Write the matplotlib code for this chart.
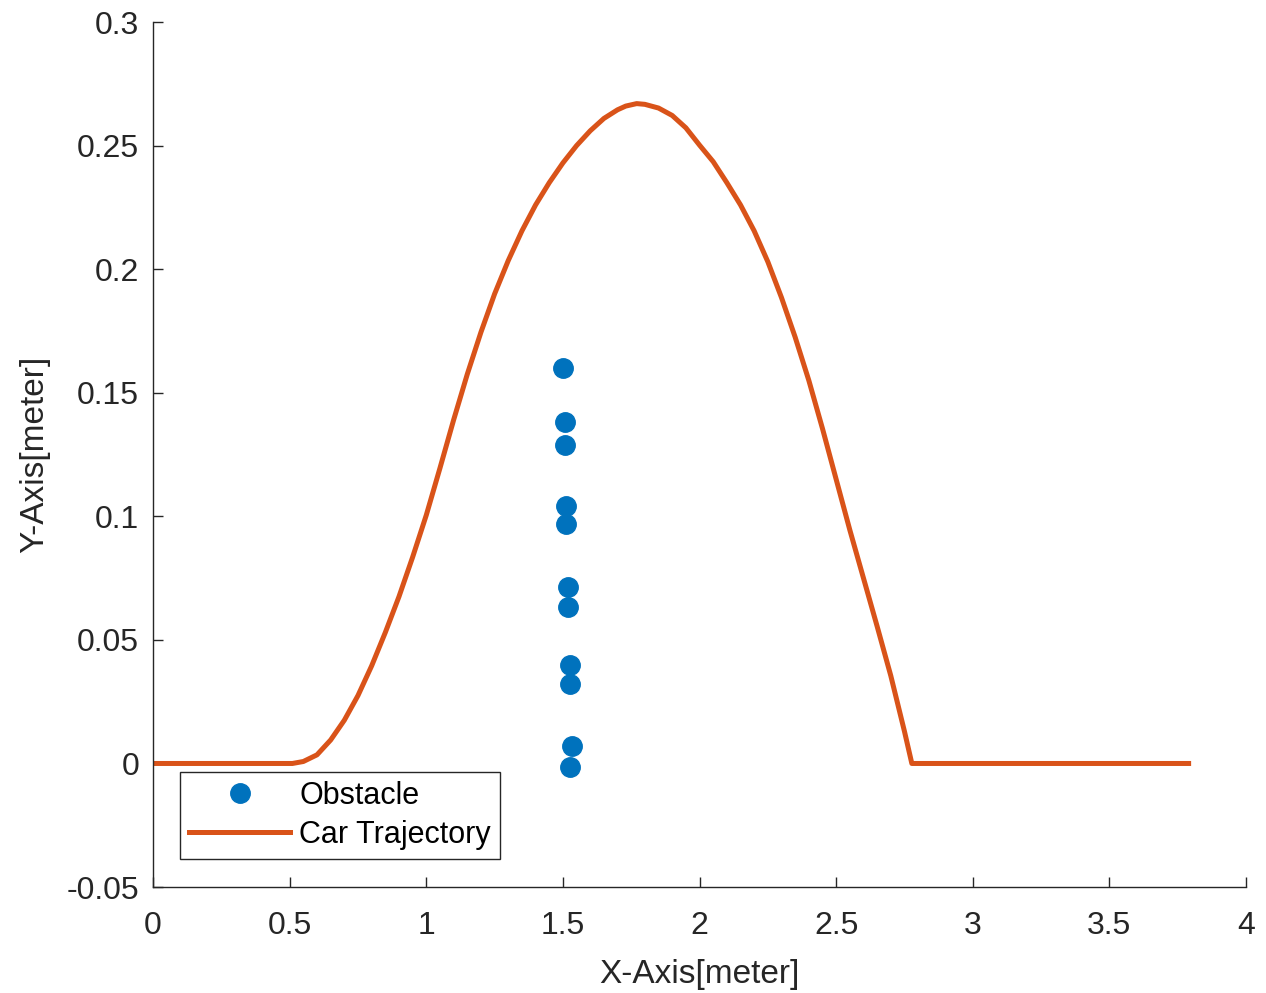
import matplotlib
matplotlib.use("Agg")
import matplotlib.pyplot as plt

plt.rcParams['font.family'] = ['Liberation Sans', 'DejaVu Sans']

# obstacle points
obs_x = [1.500, 1.508, 1.508, 1.511, 1.511, 1.519, 1.519, 1.526, 1.526, 1.533, 1.526]
obs_y = [0.160, 0.138, 0.129, 0.104, 0.0967, 0.0716, 0.0635, 0.0397, 0.032, 0.0069, -0.0016]

# car trajectory
traj_x = [0.0, 0.51, 0.55, 0.60, 0.65, 0.70, 0.75, 0.80, 0.85, 0.90, 0.95, 1.00, 1.05,
          1.10, 1.15, 1.20, 1.25, 1.30, 1.35, 1.40, 1.45, 1.50, 1.55, 1.60, 1.65, 1.70,
          1.73, 1.77, 1.80, 1.85, 1.90, 1.95, 2.00, 2.05, 2.10, 2.15, 2.20, 2.25, 2.30,
          2.35, 2.40, 2.45, 2.50, 2.55, 2.60, 2.65, 2.70, 2.75, 2.777, 3.79]
traj_y = [0.0, 0.0, 0.0008, 0.0035, 0.0095, 0.0175, 0.0275, 0.0395, 0.053, 0.0675, 0.0835,
          0.1005, 0.1195, 0.139, 0.1575, 0.1745, 0.190, 0.2035, 0.2155, 0.226, 0.235, 0.243,
          0.250, 0.256, 0.261, 0.2645, 0.266, 0.267, 0.2667, 0.2652, 0.2622, 0.2572, 0.2502,
          0.2435, 0.235, 0.226, 0.2155, 0.203, 0.1885, 0.1725, 0.155, 0.1355, 0.115, 0.0945,
          0.075, 0.0555, 0.0355, 0.013, 0.0, 0.0]

fig = plt.figure(figsize=(12.66, 9.93), dpi=100)
ax = fig.add_axes([0.1209, 0.1067, 0.8633, 0.8711])

ax.plot(obs_x, obs_y, 'o', color='#0072BD', markersize=14, label='Obstacle')
ax.plot(traj_x, traj_y, '-', color='#D95319', linewidth=3.6, label='Car Trajectory',
        solid_joinstyle='round')

ax.set_xlim(0, 4)
ax.set_ylim(-0.05, 0.3)
ax.set_xticks([0, 0.5, 1, 1.5, 2, 2.5, 3, 3.5, 4])
ax.set_xticklabels(['0', '0.5', '1', '1.5', '2', '2.5', '3', '3.5', '4'])
ax.set_yticks([-0.05, 0, 0.05, 0.1, 0.15, 0.2, 0.25, 0.3])
ax.set_yticklabels(['-0.05', '0', '0.05', '0.1', '0.15', '0.2', '0.25', '0.3'])

for s in ['top', 'right']:
    ax.spines[s].set_visible(False)
for s in ['left', 'bottom']:
    ax.spines[s].set_color('#262626')
    ax.spines[s].set_linewidth(1.0)
ax.tick_params(direction='in', length=7, width=1.0, colors='#262626', labelsize=23)
ax.tick_params(axis='x', pad=17)
ax.tick_params(axis='y', pad=10)

ax.set_xlabel('X-Axis[meter]', fontsize=24, color='#262626', labelpad=13)
ax.set_ylabel('Y-Axis[meter]', fontsize=24, color='#262626', labelpad=12)

leg = ax.legend(loc='lower left', bbox_to_anchor=(0.0247, 0.0324), borderaxespad=0,
                fontsize=22, fancybox=False, framealpha=1, edgecolor='#262626',
                handlelength=3.3, handletextpad=0.3, borderpad=0.3,
                labelspacing=0.3)
leg.get_frame().set_linewidth(1.0)

fig.savefig('out.png', dpi=100)
